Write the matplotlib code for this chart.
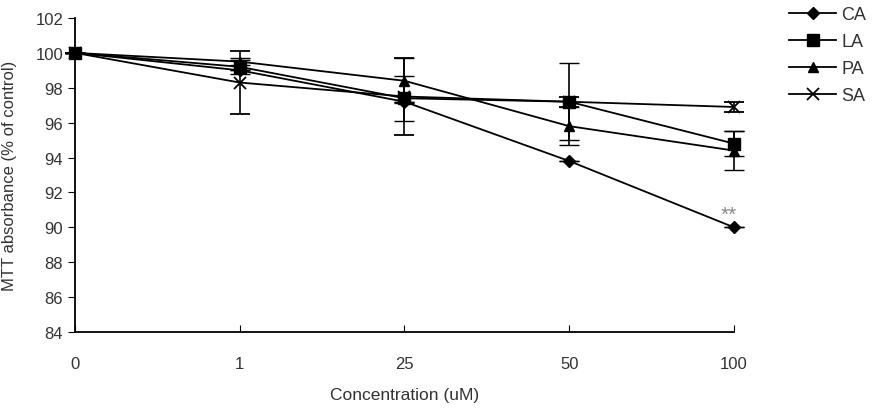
import matplotlib
matplotlib.use("Agg")
import matplotlib.pyplot as plt
from matplotlib.lines import Line2D
import numpy as np

categories = ["0", "1", "25", "50", "100"]
CA = [100, 99.0, 97.2, 93.8, 90.0]
LA = [100, 99.2, 97.4, 97.2, 94.8]
PA = [100, 99.5, 98.4, 95.8, 94.4]
SA = [100, 98.3, 97.5, 97.2, 96.9]
CA_err = [0, 0, 0, 0, 0]
LA_err = [0, 0.4, 1.3, 2.2, 0.7]
PA_err = [0, 0.2, 1.3, 1.1, 1.1]
SA_err = [0, 1.8, 2.2, 0.3, 0.3]
yticks = [84, 86, 88, 90, 92, 94, 96, 98, 100, 102]

plt.rcParams['font.family'] = ['Liberation Sans', 'DejaVu Sans']
fig = plt.figure(figsize=(8.87, 4.14), dpi=100)
ax = fig.add_axes([75/887, 1-333/414, (734-75)/887, (333-19)/414])

x = np.arange(len(categories))
series = [("CA", CA, CA_err, "D", 6), ("LA", LA, LA_err, "s", 9),
          ("PA", PA, PA_err, "^", 7), ("SA", SA, SA_err, "x", 8)]
handles = []
for name, vals, err, mk, ms in series:
    mew = 1.3 if mk == "x" else 1.0
    ax.errorbar(x, vals, yerr=err, color="black", marker=mk, markersize=ms,
                lw=1.3, capsize=7, elinewidth=1.2, capthick=1.2,
                markeredgewidth=mew, clip_on=False)
    handles.append(Line2D([], [], color="black", marker=mk, markersize=ms,
                          lw=1.3, markeredgewidth=mew, label=name))

ax.text(3.97, 90.75, "**", color="#888888", fontsize=15, ha="center", va="center")

ax.set_xlim(0, 4)
ax.set_ylim(84, 102)
ax.set_xticks(x)
ax.set_xticklabels(categories)
ax.set_yticks(yticks)
ax.tick_params(axis="x", direction="in", length=5, pad=17, labelsize=12, labelcolor="#333333")
ax.tick_params(axis="y", direction="out", length=5, labelsize=12, labelcolor="#333333")
for s in ["top", "right"]:
    ax.spines[s].set_visible(False)
for s in ["left", "bottom"]:
    ax.spines[s].set_linewidth(1.3)

ax.set_xlabel("Concentration (uM)", fontsize=12.5, color="#333333", labelpad=12)
ax.set_ylabel("MTT absorbance (% of control)", fontsize=12, color="#333333")
ax.yaxis.set_label_coords((17-75)/659, 0.5)

ax.legend(handles=handles, loc="upper left", bbox_to_anchor=(782/887, 1.0), bbox_transform=fig.transFigure,
          frameon=False, fontsize=13, handlelength=2.6, labelspacing=0.55,
          borderaxespad=0, handletextpad=0.3, labelcolor="#333333")

fig.savefig("out.png", dpi=100)
